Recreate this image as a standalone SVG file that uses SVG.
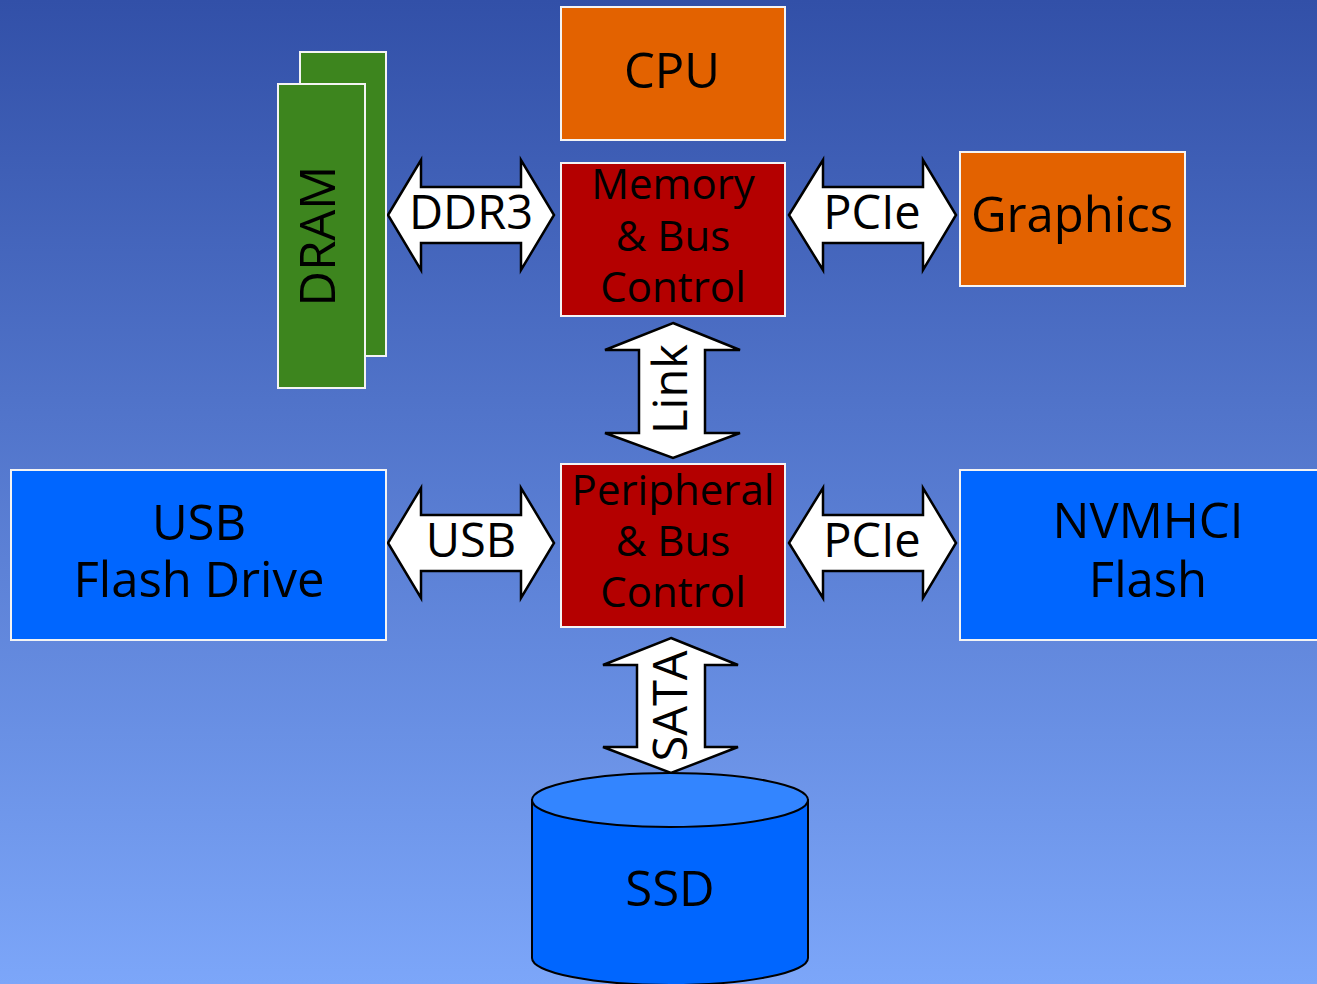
<svg xmlns="http://www.w3.org/2000/svg" width="1317" height="984" viewBox="0 0 1317 984">
<defs>
<linearGradient id="bg" x1="0" y1="0" x2="0" y2="1">
<stop offset="0" stop-color="#3250a8"/>
<stop offset="1" stop-color="#7ca6f9"/>
</linearGradient>
<style>
.box{stroke:#f4f4f4;stroke-width:2}
.arrow{fill:#fff;stroke:#000;stroke-width:2.5;stroke-linejoin:miter}
text{font-family:"Open Sans","DejaVu Sans",sans-serif;fill:#000;text-anchor:middle}
.big{font-size:49px}
.mid{font-size:42px}
.lbl{font-size:47px}
</style>
</defs>
<rect width="1317" height="984" fill="url(#bg)"/>

<g id="connectors">
<g id="ddr3">
<polygon class="arrow" points="388,215 421,160 421,187 521,187 521,160 554,215 521,270 521,243 421,243 421,270"/>
<text class="lbl" x="471" y="229">DDR3</text>
</g>
<g id="pcie-top">
<polygon class="arrow" points="789,215 823,160 823,187 923,187 923,160 956,215 923,270 923,243 823,243 823,270"/>
<text class="lbl" x="872" y="229">PCIe</text>
</g>
<g id="link">
<polygon class="arrow" points="673,323 740,350 705,350 705,433 740,433 673,458 605,433 639,433 639,350 605,350"/>
<text class="lbl" transform="translate(687,389) rotate(-90)">Link</text>
</g>
<g id="usb-link">
<polygon class="arrow" points="388,543 421,488 421,515 521,515 521,488 554,543 521,598 521,571 421,571 421,598"/>
<text class="lbl" x="471" y="557">USB</text>
</g>
<g id="pcie-bottom">
<polygon class="arrow" points="789,543 823,488 823,515 923,515 923,488 956,543 923,598 923,571 823,571 823,598"/>
<text class="lbl" x="872" y="557">PCIe</text>
</g>
<g id="sata">
<polygon class="arrow" points="671,638 738,665 705,665 705,747 738,747 671,773 603,747 637,747 637,665 603,665"/>
<text class="lbl" transform="translate(687,706) rotate(-90)">SATA</text>
</g>
</g>

<g id="dram">
<rect class="box" x="300" y="52" width="86" height="304" fill="#3d851e"/>
<rect class="box" x="278" y="84" width="87" height="304" fill="#3d851e"/>
<text class="big" transform="translate(335,236) rotate(-90)">DRAM</text>
</g>

<g id="cpu">
<rect class="box" x="561" y="7" width="224" height="133" fill="#e36200"/>
<text class="big" x="672" y="88">CPU</text>
</g>

<g id="memctrl">
<rect class="box" x="561" y="163" width="224" height="153" fill="#b40000"/>
<text class="mid" x="673" y="199">Memory</text>
<text class="mid" x="673" y="251">&amp; Bus</text>
<text class="mid" x="673" y="302">Control</text>
</g>

<g id="graphics">
<rect class="box" x="960" y="152" width="225" height="134" fill="#e36200"/>
<text class="big" x="1072" y="232">Graphics</text>
</g>

<g id="periph">
<rect class="box" x="561" y="464" width="224" height="163" fill="#b40000"/>
<text class="mid" x="673" y="505">Peripheral</text>
<text class="mid" x="673" y="556">&amp; Bus</text>
<text class="mid" x="673" y="607">Control</text>
</g>

<g id="usbflash">
<rect class="box" x="11" y="470" width="375" height="170" fill="#0066ff"/>
<text class="big" x="199" y="540">USB</text>
<text class="big" x="199" y="597">Flash Drive</text>
</g>

<g id="nvmhci">
<rect class="box" x="960" y="470" width="370" height="170" fill="#0066ff"/>
<text class="big" x="1148" y="538">NVMHCI</text>
<text class="big" x="1148" y="597">Flash</text>
</g>

<g id="ssd">
<path d="M532,800 L532,958 A138,27 0 0 0 808,958 L808,800 Z" fill="#0066ff" stroke="#000" stroke-width="2"/>
<ellipse cx="670" cy="800" rx="138" ry="27" fill="#3385ff" stroke="#000" stroke-width="2"/>
<text class="big" x="670" y="906">SSD</text>
</g>
</svg>
